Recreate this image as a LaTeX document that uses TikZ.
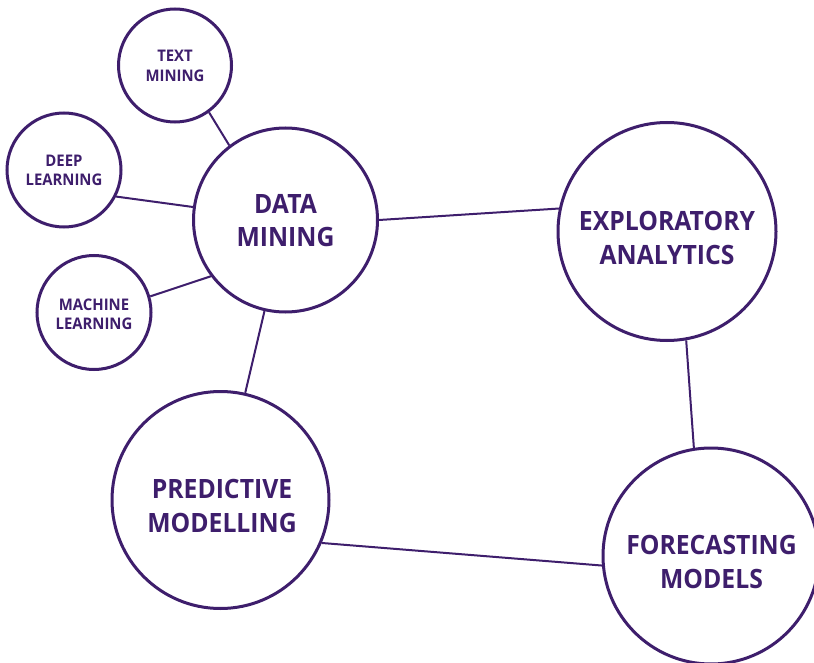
\documentclass[tikz,border=0pt]{standalone}
\usepackage{fontspec}
\setmainfont{Open Sans}[FakeStretch=0.93]
\begin{document}
\begin{tikzpicture}[x=1pt,y=-1pt,
  ink/.style={draw={rgb,255:red,62;green,30;blue,108}},
  bub/.style={ink,circle,line width=3pt,inner sep=0pt,fill=white},
  big/.style={text={rgb,255:red,62;green,30;blue,108},align=center,font=\bfseries\fontsize{26.6}{33.5}\selectfont},
  small/.style={text={rgb,255:red,62;green,30;blue,108},align=center,font=\bfseries\fontsize{16}{19.5}\selectfont},
  link/.style={ink,line width=2pt}]
\useasboundingbox (0,0) rectangle (814,663);
\node[bub,minimum size=113pt] (tm) at (175,65.5) {};
\node[bub,minimum size=114pt] (dl) at (64,170) {};
\node[bub,minimum size=114pt] (ml) at (94,312.5) {};
\node[bub,minimum size=184pt] (dm) at (285.5,220) {};
\node[bub,minimum size=218pt] (ea) at (667,231.5) {};
\node[bub,minimum size=217pt] (pm) at (220.5,500) {};
\node[bub,minimum size=216pt] (fm) at (711,556) {};
\node[small] (tmT) at (175,66) {TEXT\\MINING};
\node[small] (dlT) at (64,170.5) {DEEP\\LEARNING};
\node[small] (mlT) at (94,314.5) {MACHINE\\LEARNING};
\node[big] (dmT) at (285.5,220.5) {DATA\\MINING};
\node[big] (eaT) at (667,238) {EXPLORATORY\\ANALYTICS};
\node[big] (pmT) at (222,506) {PREDICTIVE\\MODELLING};
\node[big] (fmT) at (711.5,562) {FORECASTING\\MODELS};
\draw[link] (tm.-54) -- (dm.127);
\draw[link] (dl.-27) -- (dm.172);
\draw[link] (ml.16) -- (dm.217);
\draw[link] (dm.0) -- (ea.168);
\draw[link] (dm.257) -- (pm.77);
\draw[link] (pm.-23) -- (fm.185);
\draw[link] (ea.280) -- (fm.99);
\end{tikzpicture}
\end{document}
